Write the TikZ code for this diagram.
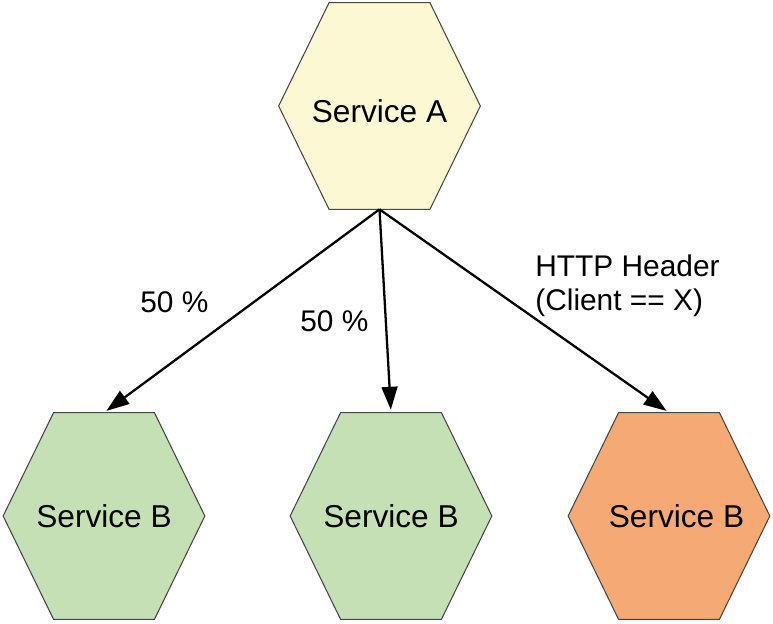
\documentclass[tikz,border=0pt]{standalone}
\usepackage{fontspec}
\setmainfont{Liberation Sans}
\usepackage{tikz}
\usetikzlibrary{arrows.meta, positioning, calc, backgrounds}
\definecolor{hexyellow}{RGB}{251,248,211}
\definecolor{hexgreen}{RGB}{197,224,180}
\definecolor{hexorange}{RGB}{245,169,116}
\definecolor{hexline}{RGB}{70,70,70}
\tikzset{>={Triangle[length=13pt,width=9pt]}}
\tikzset{service/.style={minimum width=4.02cm, minimum height=4.12cm, inner sep=0pt, font=\fontsize{18}{21}\selectfont},
	edgelabel/.style={inner sep=0pt, font=\fontsize{17}{18.8}\selectfont}}

\begin{document}
\begin{tikzpicture}

			\useasboundingbox (0,0) rectangle (15.46,12.46);

			\node [service, text height=19pt] (sa) at (7.59,10.34) {Service A};
			\node [service] (sb1) at (2.08,2.14) {Service B};
			\node [service] (sb2) at (7.82,2.14) {Service B};
			\node [service] (sb3) at (13.38,2.14) {\hspace{0.3cm}Service B};

			%hexagons behind the text
			\begin{scope}[on background layer]
			\foreach \n/\c in {sa/hexyellow, sb1/hexgreen, sb2/hexgreen, sb3/hexorange}
				\draw [hexline, line width=0.6pt, fill=\c] (\n.west)
					-- ($(\n.north west)!.25!(\n.north east)$) -- ($(\n.north west)!.75!(\n.north east)$)
					-- (\n.east)
					-- ($(\n.south west)!.75!(\n.south east)$) -- ($(\n.south west)!.25!(\n.south east)$)
					-- cycle;
			\end{scope}

			\draw [->, line width=1.3pt, shorten >=1.7pt] (sa.south) -- (sb1.north);
			\draw [->, line width=1.3pt, shorten >=1.7pt] (sa.south) -- (sb2.north);
			\draw [->, line width=1.3pt, shorten >=1.7pt] (sa.south) -- (sb3.north);

			\node [edgelabel, anchor=base west] (pct1) at (2.80,6.20) {50 \%};
			\node [edgelabel, anchor=base west] (pct2) at (6.00,5.82) {50 \%};
			\node [edgelabel, anchor=north west, align=left] (hdr) at (10.70,7.36) {HTTP Header\\(Client == X)};

\end{tikzpicture}
\end{document}
